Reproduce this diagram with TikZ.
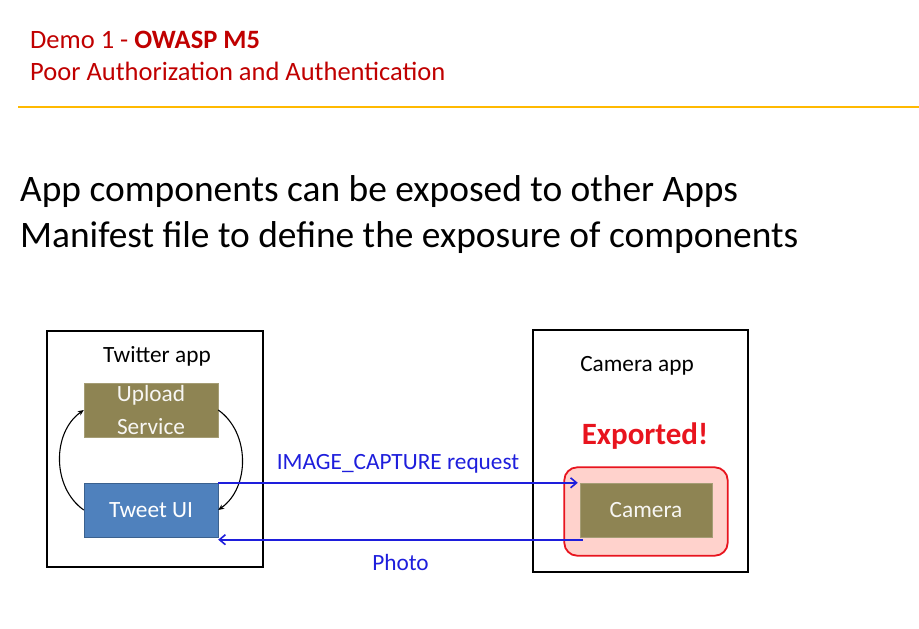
\documentclass[tikz,border=0pt]{standalone}
\usepackage{fontspec}
\setmainfont{Carlito}
\usetikzlibrary{arrows.meta,fit,backgrounds}

\definecolor{titlered}{HTML}{C00000}
\definecolor{rulegold}{HTML}{FFB900}
\definecolor{olivebox}{HTML}{8E8453}
\definecolor{bluebox}{HTML}{4F81BD}
\definecolor{arrowblue}{HTML}{1E1EDC}
\definecolor{exportred}{HTML}{E8141E}
\definecolor{exportfill}{HTML}{FFD2CC}

\tikzset{
  appbox/.style={draw=black, line width=1.8pt, minimum width=#1},
  compbox/.style={minimum width=134pt, minimum height=54pt, inner sep=0pt,
    align=center, text=white!93!olivebox, font=\fontsize{23.3}{33}\selectfont},
  difftext/.style={font=\fontsize{23.3}{28}\selectfont},
  msgline/.style={draw=arrowblue, line width=1.6pt, -{Straight Barb[length=6pt,width=10pt]}},
  callarc/.style={draw=black, line width=1.1pt, -{Stealth[length=6pt,width=5pt]}},
}

\begin{document}
\begin{tikzpicture}[x=1pt, y=-1pt]
    % page outline
    \useasboundingbox (0,0) rectangle (919,629);

    % slide heading
    \node[anchor=west, text=titlered, font=\fontsize{26.5}{30}\selectfont, inner sep=0pt] (head1) at (30,40)
        {Demo 1 - \textbf{OWASP M5}};
    \node[anchor=west, text=titlered, font=\fontsize{26.5}{30}\selectfont, inner sep=0pt] (head2) at (30,71)
        {Poor Authorization and Authentication};
    \draw[rulegold, line width=1.2pt] (18,107) -- (919,107);

    % body text
    \node[anchor=west, font=\fontsize{37.4}{42}\selectfont, inner sep=0pt] (line1) at (20,192)
        {App components can be exposed to other Apps};
    \node[anchor=west, font=\fontsize{37.4}{42}\selectfont, inner sep=0pt] (line2) at (20,238)
        {Manifest file to define the exposure of components};

    % Twitter app
    \node[appbox=216pt, minimum height=236pt] (twitter) at (155,449) {};
    \node[difftext] (twlabel) at (157,356) {Twitter app};
    \node[compbox, fill=olivebox, draw=olivebox!80!white] (upload) at (151,410)
        {Upload\\Service};
    \node[compbox, fill=bluebox, draw=bluebox!75!black, text=white] (tweet) at (151,510) {Tweet UI};
    \draw[callarc] (tweet.west) to[out=145, in=215] (upload.west);
    \draw[callarc] (upload.east) to[out=-35, in=35] (tweet.east);

    % Camera app
    \node[appbox=215pt, minimum height=242pt] (camapp) at (640.5,451) {};
    \node[difftext] (camlabel) at (637,366) {Camera app};
    \node[text=exportred, font=\fontsize{31}{36}\selectfont\bfseries] (exported) at (645,436) {Exported!};
    \node[compbox, fill=olivebox, draw=olivebox!80!white, minimum width=132pt] (camera) at (646,510.5) {Camera};
    \begin{pgfonlayer}{background}
    \node[fit=(camera), inner xsep=15.5pt, inner ysep=17pt, yshift=-1pt, rounded corners=13pt,
        draw=exportred, line width=1.8pt, fill=exportfill] (exportzone) {};
    \end{pgfonlayer}

    % intent messages
    \draw[msgline] (tweet.north east) -- ([xshift=-2pt]tweet.north east -| camera.west)
        node[midway, above=5pt, text=arrowblue, difftext] (reqlabel) {IMAGE\_CAPTURE request};
    \draw[msgline] ([xshift=3pt,yshift=-2pt]camera.south west) -- ([yshift=-2pt]camera.south west -| tweet.east)
        node[midway, below=10pt, text=arrowblue, difftext] (photolabel) {Photo};
\end{tikzpicture}
\end{document}
